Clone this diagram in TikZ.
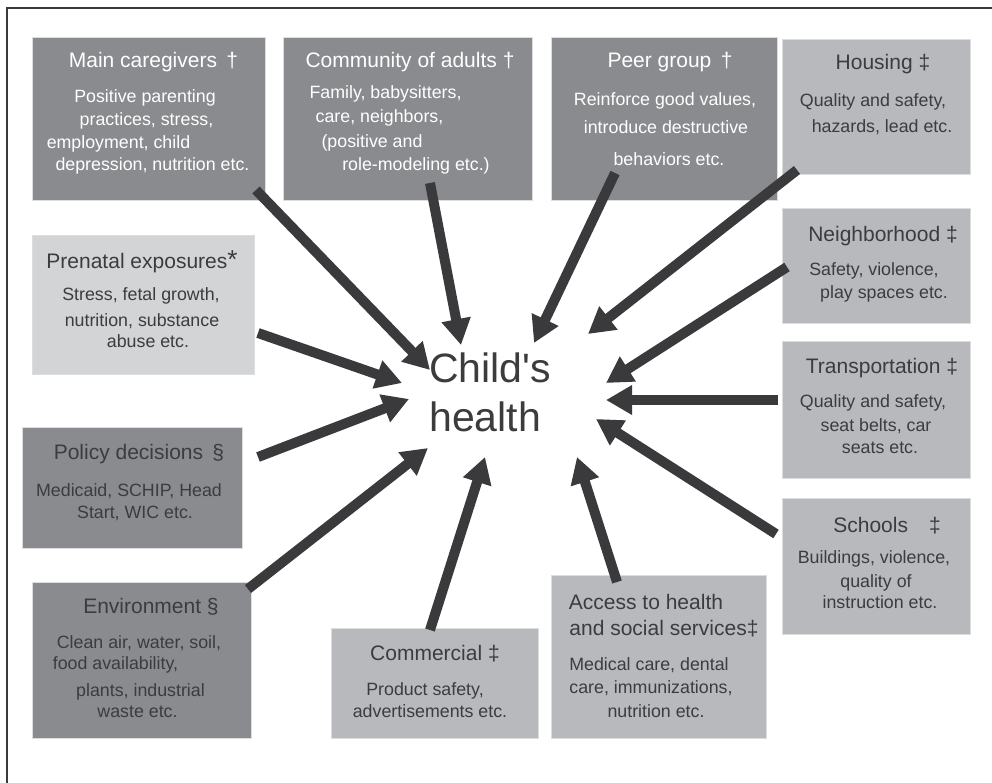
\documentclass[tikz,border=0pt]{standalone}
\usepackage{fontspec}
\setmainfont{Liberation Sans}
\usetikzlibrary{arrows.meta}
\definecolor{boxdark}{HTML}{8A8B8E}
\definecolor{boxmid}{HTML}{B8B9BC}
\definecolor{boxpale}{HTML}{D3D4D6}
\definecolor{boxedge}{HTML}{DCDDDF}
\definecolor{inkdark}{HTML}{3C3C3E}
\definecolor{arrowcol}{HTML}{3A3A3C}
\definecolor{framecol}{HTML}{3A3A3A}
\newcommand{\txtline}[5]{\node[#1] (#2) at (#3,#4) {#5};}
\begin{document}
\begin{tikzpicture}[x=1pt,y=-1pt,
  box/.style={draw=boxedge, line width=0.8pt, inner sep=0pt, anchor=north west},
  darkbox/.style={box, fill=boxdark},
  midbox/.style={box, fill=boxmid},
  palebox/.style={box, fill=boxpale},
  ttl/.style={anchor=base, inner sep=0pt, font=\fontsize{21}{25}\selectfont},
  bdy/.style={anchor=base, inner sep=0pt, font=\fontsize{17.8}{22}\selectfont},
  wt/.style={text=white},
  dk/.style={text=inkdark},
  arr/.style={draw=arrowcol, line width=10pt, -{Triangle[length=26pt,width=28pt]}, fill=arrowcol}
]
\useasboundingbox (0,0) rectangle (992,782);
\fill[white] (0,0) rectangle (992,782);
\draw[framecol, line width=1.5pt] (7,790) -- (7,8) -- (1000,8);

% boxes
\node[darkbox, minimum width=233pt, minimum height=163pt] (main) at (32,37) {};
\node[darkbox, minimum width=249pt, minimum height=163pt] (comm) at (283,37) {};
\node[darkbox, minimum width=226pt, minimum height=163pt] (peer) at (551,37) {};
\node[midbox, minimum width=188pt, minimum height=135pt] (hous) at (782,39) {};
\node[midbox, minimum width=188pt, minimum height=115pt] (neigh) at (782,208) {};
\node[midbox, minimum width=188pt, minimum height=137pt] (trans) at (782,341) {};
\node[midbox, minimum width=188pt, minimum height=136pt] (school) at (782,498) {};
\node[midbox, minimum width=215pt, minimum height=163pt] (access) at (551,575) {};
\node[midbox, minimum width=207pt, minimum height=110pt] (comm2) at (331,628) {};
\node[darkbox, minimum width=219pt, minimum height=156pt] (env) at (32,582) {};
\node[darkbox, minimum width=220pt, minimum height=121pt] (policy) at (22,427) {};
\node[palebox, minimum width=222pt, minimum height=139pt] (prenat) at (32,235) {};

% texts: Main caregivers
\txtline{ttl,wt}{main-t}{153.5}{67}{Main caregivers\, †}
\txtline{bdy,wt}{main-1}{145}{102}{Positive parenting}
\txtline{bdy,wt}{main-2}{146.5}{125}{practices, stress,}
\txtline{bdy,wt}{main-3}{118.5}{148}{employment, child}
\txtline{bdy,wt}{main-4}{152.5}{170}{depression, nutrition etc.}
% Community of adults
\txtline{ttl,wt}{comm-t}{410}{67}{Community of adults †}
\txtline{bdy,wt}{comm-1}{385.5}{98}{Family, babysitters,}
\txtline{bdy,wt}{comm-2}{379.5}{122}{care, neighbors,}
\txtline{bdy,wt}{comm-3}{372}{147}{(positive and}
\txtline{bdy,wt}{comm-4}{416}{170}{role-modeling etc.)}
% Peer group
\txtline{ttl,wt}{peer-t}{670}{67}{Peer group\, †}
\txtline{bdy,wt}{peer-1}{665}{105}{Reinforce good values,}
\txtline{bdy,wt}{peer-2}{666}{133}{introduce destructive}
\txtline{bdy,wt}{peer-3}{669}{165}{behaviors etc.}
% Housing
\txtline{ttl,dk}{hous-t}{883}{69}{Housing ‡}
\txtline{bdy,dk}{hous-1}{873}{106}{Quality and safety,}
\txtline{bdy,dk}{hous-2}{882}{132}{hazards, lead etc.}
% Neighborhood
\txtline{ttl,dk}{neigh-t}{883}{241}{Neighborhood ‡}
\txtline{bdy,dk}{neigh-1}{874}{275}{Safety, violence,}
\txtline{bdy,dk}{neigh-2}{884}{298}{play spaces etc.}
% Transportation
\txtline{ttl,dk}{trans-t}{882}{373}{Transportation ‡}
\txtline{bdy,dk}{trans-1}{873}{407}{Quality and safety,}
\txtline{bdy,dk}{trans-2}{876}{431}{seat belts, car}
\txtline{bdy,dk}{trans-3}{880}{453}{seats etc.}
% Schools
\txtline{ttl,dk}{school-t}{887}{532}{Schools\quad ‡}
\txtline{bdy,dk}{school-1}{874}{563}{Buildings, violence,}
\txtline{bdy,dk}{school-2}{876}{587}{quality of}
\txtline{bdy,dk}{school-3}{880}{608}{instruction etc.}
% Access
\txtline{ttl,dk}{access-t1}{646}{609}{Access to health}
\txtline{ttl,dk}{access-t2}{664}{635}{and social services‡}
\txtline{bdy,dk}{access-1}{649}{670}{Medical care, dental}
\txtline{bdy,dk}{access-2}{651}{693}{care, immunizations,}
\txtline{bdy,dk}{access-3}{656}{717}{nutrition etc.}
% Commercial
\txtline{ttl,dk}{comm2-t}{435}{660}{Commercial ‡}
\txtline{bdy,dk}{comm2-1}{425}{695}{Product safety,}
\txtline{bdy,dk}{comm2-2}{430}{717}{advertisements etc.}
% Environment
\txtline{ttl,dk}{env-t}{151}{613}{Environment §}
\txtline{bdy,dk}{env-1}{139}{648}{Clean air, water, soil,}
\txtline{bdy,dk}{env-2}{115.5}{669}{food availability,}
\txtline{bdy,dk}{env-3}{140.5}{696}{plants, industrial}
\txtline{bdy,dk}{env-4}{137.5}{717}{waste etc.}
% Policy decisions
\txtline{ttl,dk}{policy-t}{139}{459}{Policy decisions\, §}
\txtline{bdy,dk}{policy-1}{129}{496}{Medicaid, SCHIP, Head}
\txtline{bdy,dk}{policy-2}{135}{518}{Start, WIC etc.}
% Prenatal exposures
\txtline{ttl,dk}{prenat-t}{142}{268}{Prenatal exposures{\fontsize{26}{26}\selectfont *}}
\txtline{bdy,dk}{prenat-1}{141}{300}{Stress, fetal growth,}
\txtline{bdy,dk}{prenat-2}{142}{326}{nutrition, substance}
\txtline{bdy,dk}{prenat-3}{148}{347}{abuse etc.}

% centre
\node[anchor=north west, inner sep=0pt, align=left, text=inkdark,
      font=\fontsize{41}{49}\selectfont] (child) at (429,353) {Child\textquotesingle s\\health};

% arrow ends
\coordinate (s1) at (256,190);  \coordinate (e1) at (430,370);
\coordinate (s2) at (430,183);  \coordinate (e2) at (461,345);
\coordinate (s3) at (615,173);  \coordinate (e3) at (534,343);
\coordinate (s4) at (797,170);  \coordinate (e4) at (588,334);
\coordinate (s5) at (787,267);  \coordinate (e5) at (606,383);
\coordinate (s6) at (778,400);  \coordinate (e6) at (606,400);
\coordinate (s7) at (776,534);  \coordinate (e7) at (596,419);
\coordinate (s8) at (617,582);  \coordinate (e8) at (577,457);
\coordinate (s9) at (430,630);  \coordinate (e9) at (485,457);
\coordinate (s10) at (248,589); \coordinate (e10) at (428,448);
\coordinate (s11) at (258,457); \coordinate (e11) at (409,399);
\coordinate (s12) at (258,333); \coordinate (e12) at (402,383);
\foreach \i in {1,...,12} {\draw[arr] (s\i) -- (e\i);}
\end{tikzpicture}
\end{document}
